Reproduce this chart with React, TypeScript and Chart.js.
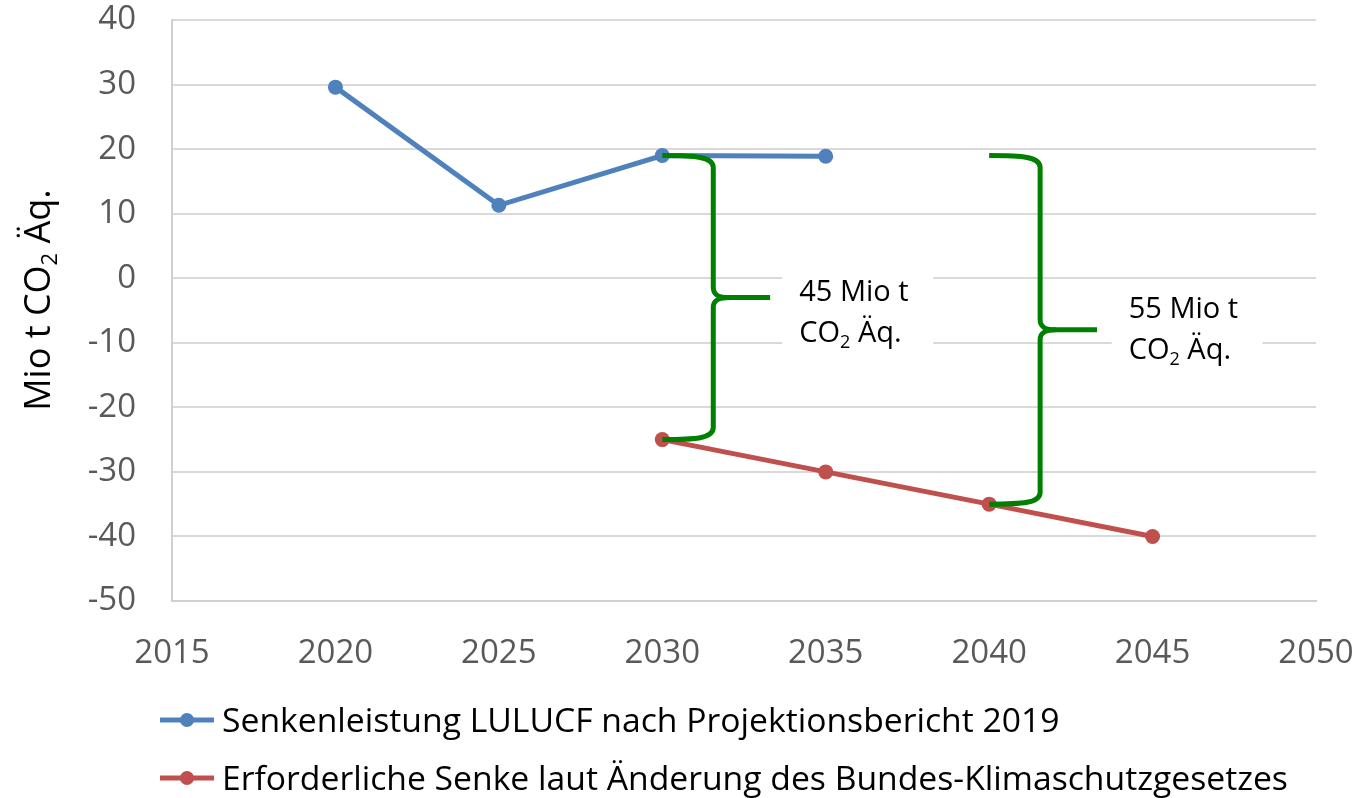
import React, { useEffect, useRef } from "react";
import { Chart, registerables } from "chart.js";

Chart.register(...registerables);

const FONT = "'Open Sans', 'Noto Sans', sans-serif";

// Data
const blueYears = [2020, 2025, 2030, 2035];
const blueValues = [29.6, 11.3, 19.0, 18.9];
const redYears = [2030, 2035, 2040, 2045];
const redValues = [-25, -30, -35, -40];
const seriesLabels = [
  "Senkenleistung LULUCF nach Projektionsbericht 2019",
  "Erforderliche Senke laut Änderung des Bundes-Klimaschutzgesetzes",
];
const seriesColors = ["#4f81bd", "#c0504d"];
const xTickMin = 2015;
const xTickMax = 2050;
const xTickStep = 5;
const yTickMin = -50;
const yTickMax = 40;
const yTickStep = 10;

// Annotations (braces between the series)
const braceYears = [2030, 2040];
const braceTop = [19, 19];
const braceBottom = [-25, -35];
const braceLabelFirst = ["45 Mio t", "55 Mio t"];
const braceLabelX = [2033.67, 2043.75];
const braceLabelY = [-1.9, -4.6];

const yTitleParts = ["Mio t CO", "2", " Äq."];

function drawSubText(ctx: CanvasRenderingContext2D, x: number, y: number, size: number, parts: string[]) {
  const subSize = Math.round(size * 0.62);
  ctx.font = `${size}px ${FONT}`;
  const w1 = ctx.measureText(parts[0]).width;
  ctx.fillText(parts[0], x, y);
  ctx.font = `${subSize}px ${FONT}`;
  const w2 = ctx.measureText(parts[1]).width;
  ctx.fillText(parts[1], x + w1, y + size * 0.2);
  ctx.font = `${size}px ${FONT}`;
  ctx.fillText(parts[2], x + w1 + w2, y);
}

function measureSubText(ctx: CanvasRenderingContext2D, size: number, parts: string[]) {
  const subSize = Math.round(size * 0.62);
  ctx.font = `${size}px ${FONT}`;
  let w = ctx.measureText(parts[0]).width + ctx.measureText(parts[2]).width;
  ctx.font = `${subSize}px ${FONT}`;
  w += ctx.measureText(parts[1]).width;
  return w;
}

const annotationPlugin = {
  id: "annotations",
  beforeDatasetsDraw(chart: any) {
    const ctx = chart.ctx as CanvasRenderingContext2D;
    const xs = chart.scales.x;
    const ys = chart.scales.y;
    ctx.save();
    const size = 29;
    for (let i = 0; i < braceLabelX.length; i++) {
      const left = xs.getPixelForValue(braceLabelX[i]);
      const c1 = ys.getPixelForValue(braceLabelY[i]);
      const c2 = c1 + 41;
      ctx.fillStyle = "#ffffff";
      ctx.fillRect(left, c1 - 28, 151, c2 - c1 + 56);
      ctx.fillStyle = "#000000";
      ctx.textBaseline = "alphabetic";
      ctx.textAlign = "left";
      const cap = size * 0.714;
      ctx.font = `${size}px ${FONT}`;
      ctx.fillText(braceLabelFirst[i], left + 17, c1 + cap / 2);
      drawSubText(ctx, left + 17, c2 + cap / 2, size, ["CO", "2", " Äq."]);
    }
    ctx.restore();
  },
  afterDatasetsDraw(chart: any) {
    const ctx = chart.ctx as CanvasRenderingContext2D;
    const xs = chart.scales.x;
    const ys = chart.scales.y;
    ctx.save();
    ctx.strokeStyle = "#008000";
    ctx.lineWidth = 5;
    ctx.lineCap = "butt";
    ctx.lineJoin = "round";
    for (let i = 0; i < braceYears.length; i++) {
      const x0 = xs.getPixelForValue(braceYears[i]);
      const sx = xs.getPixelForValue(braceYears[i] + 1.56);
      const tx = xs.getPixelForValue(braceYears[i] + 3.3);
      const yT = ys.getPixelForValue(braceTop[i]);
      const yB = ys.getPixelForValue(braceBottom[i]);
      const yM = (yT + yB) / 2;
      ctx.beginPath();
      ctx.moveTo(x0, yT);
      ctx.bezierCurveTo(sx - 18, yT, sx, yT + 1, sx, yT + 12);
      ctx.lineTo(sx, yM - 10);
      ctx.bezierCurveTo(sx, yM - 2, sx + 6, yM, sx + 16, yM);
      ctx.lineTo(tx, yM);
      ctx.stroke();
      ctx.beginPath();
      ctx.moveTo(sx + 16, yM);
      ctx.bezierCurveTo(sx + 6, yM, sx, yM + 2, sx, yM + 10);
      ctx.lineTo(sx, yB - 12);
      ctx.bezierCurveTo(sx, yB - 1, sx - 18, yB, x0, yB);
      ctx.stroke();
    }
    ctx.restore();
  },
  afterDraw(chart: any) {
    const ctx = chart.ctx as CanvasRenderingContext2D;
    ctx.save();
    const tSize = 36;
    const tw = measureSubText(ctx, tSize, yTitleParts);
    ctx.translate(50, 300);
    ctx.rotate(-Math.PI / 2);
    ctx.fillStyle = "#000000";
    ctx.textBaseline = "alphabetic";
    ctx.textAlign = "left";
    drawSubText(ctx, -tw / 2, 0, tSize, yTitleParts);
    ctx.restore();

    ctx.save();
    const lSize = 33.7;
    const rows = [720, 778];
    for (let i = 0; i < seriesLabels.length; i++) {
      const y = rows[i];
      ctx.strokeStyle = seriesColors[i];
      ctx.lineWidth = 5;
      ctx.beginPath();
      ctx.moveTo(160, y);
      ctx.lineTo(214, y);
      ctx.stroke();
      ctx.fillStyle = seriesColors[i];
      ctx.beginPath();
      ctx.arc(187, y, 7, 0, Math.PI * 2);
      ctx.fill();
      ctx.fillStyle = "#000000";
      ctx.font = `${lSize}px ${FONT}`;
      ctx.textBaseline = "alphabetic";
      ctx.textAlign = "left";
      ctx.fillText(seriesLabels[i], 222, y + (lSize * 0.714) / 2);
    }
    ctx.restore();
  },
};

export default function App() {
  const canvasRef = useRef<HTMLCanvasElement | null>(null);

  useEffect(() => {
    const canvas = canvasRef.current;
    if (!canvas) return;
    const chart = new Chart(canvas, {
      type: "line",
      data: {
        datasets: [
          {
            label: seriesLabels[0],
            data: blueYears.map((x, i) => ({ x, y: blueValues[i] })),
            borderColor: seriesColors[0],
            backgroundColor: seriesColors[0],
            borderWidth: 5,
            pointRadius: 7.5,
            pointHoverRadius: 7.5,
            pointBorderWidth: 0,
            tension: 0,
          },
          {
            label: seriesLabels[1],
            data: redYears.map((x, i) => ({ x, y: redValues[i] })),
            borderColor: seriesColors[1],
            backgroundColor: seriesColors[1],
            borderWidth: 5,
            pointRadius: 7.5,
            pointHoverRadius: 7.5,
            pointBorderWidth: 0,
            tension: 0,
          },
        ],
      },
      options: {
        animation: false,
        responsive: true,
        maintainAspectRatio: false,
        layout: { padding: { top: 20, right: 42, left: 0, bottom: 0 } },
        plugins: {
          legend: { display: false },
          tooltip: { enabled: false },
        },
        scales: {
          x: {
            type: "linear",
            min: xTickMin,
            max: xTickMax,
            ticks: {
              stepSize: xTickStep,
              callback: (v: any) => String(v),
              color: "#595959",
              font: { family: FONT, size: 33 },
              padding: 33,
              maxRotation: 0,
            },
            grid: { display: false, drawTicks: false },
            border: { display: true, color: "#d0d0d0", width: 2 },
            afterFit: (s: any) => {
              s.height = 197;
              s.paddingLeft = 0;
              s.paddingRight = 0;
            },
          },
          y: {
            min: yTickMin,
            max: yTickMax,
            ticks: {
              stepSize: yTickStep,
              color: "#595959",
              font: { family: FONT, size: 33 },
              padding: 36,
            },
            grid: { color: "#d9d9d9", lineWidth: 2, drawTicks: false },
            border: { display: true, color: "#d0d0d0", width: 2 },
            afterFit: (s: any) => {
              s.width = 172;
              s.paddingTop = 0;
              s.paddingBottom = 0;
            },
          },
        },
      },
      plugins: [annotationPlugin],
    } as any);
    return () => chart.destroy();
  }, []);

  return (
    <div style={{ position: "absolute", left: 0, top: 0, width: 1358, height: 798 }}>
      <canvas ref={canvasRef} />
    </div>
  );
}
